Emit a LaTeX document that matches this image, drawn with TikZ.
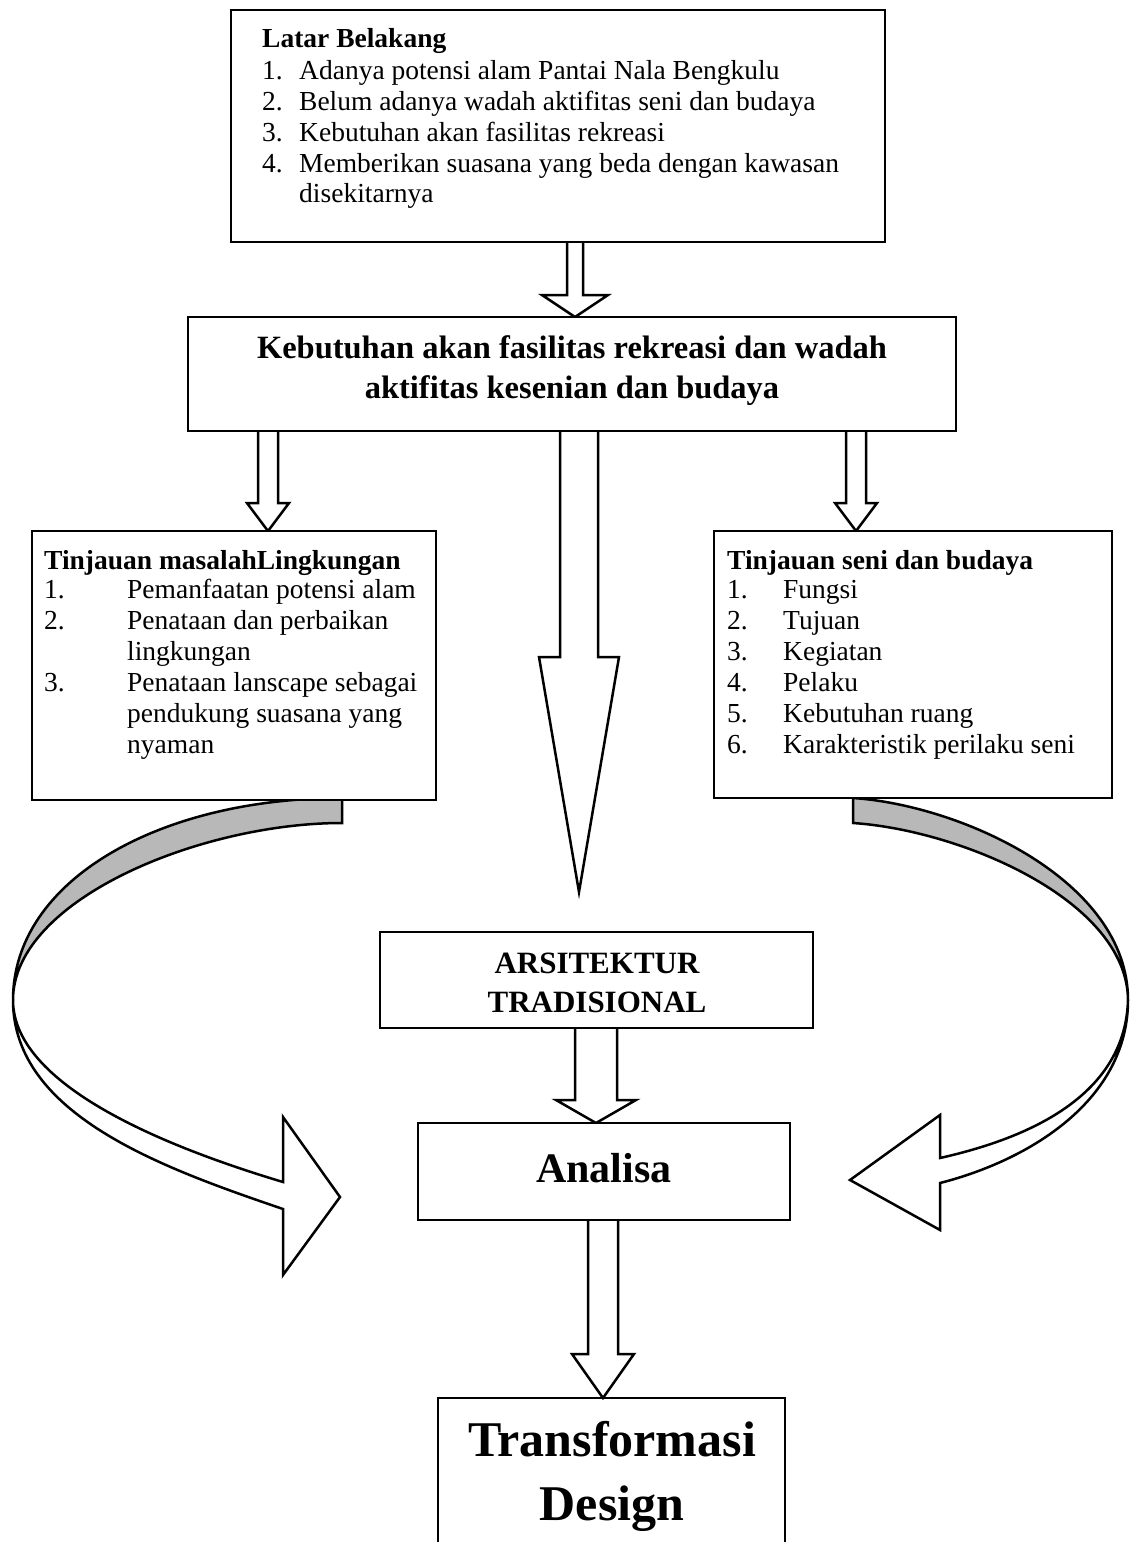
\documentclass[tikz,border=0pt]{standalone}
\usepackage{fontspec}
\setmainfont{Liberation Serif}
\usetikzlibrary{backgrounds}
\newcommand{\myfA}{\fontsize{27.5}{31}\selectfont}
\newcommand{\myfB}{\fontsize{32.5}{38}\selectfont\bfseries}
\newcommand{\myfC}{\fontsize{31}{40}\selectfont\bfseries}
\newcommand{\myfD}{\fontsize{42}{50}\selectfont\bfseries}
\newcommand{\myfE}{\fontsize{50}{62}\selectfont\bfseries}
% block arrow: x-coordinate, start point, tip point, shaft half, head half, head length
\newcommand{\blockarrow}[6]{%
  \path[arrowline] ([xshift=-#4]#1 |- #2) -- ([xshift=-#4,yshift=#6]#1 |- #3)
    -- ([xshift=-#5,yshift=#6]#1 |- #3) -- (#1 |- #3)
    -- ([xshift=#5,yshift=#6]#1 |- #3) -- ([xshift=#4,yshift=#6]#1 |- #3)
    -- ([xshift=#4]#1 |- #2);}
\begin{document}
\begin{tikzpicture}[x=1pt,y=-1pt,
  box/.style={draw, line width=2.8pt, fill=white, rectangle, inner sep=0pt, outer sep=0pt, anchor=north west},
  arrowline/.style={draw, line width=2.5pt, fill=white, line join=miter},
  band/.style={draw, line width=2.5pt, line join=miter},
  shade/.style={fill=black!28},
  txt/.style={anchor=base west, inner sep=0pt, font=\myfA},
  hdr/.style={anchor=base west, inner sep=0pt, font=\myfA\bfseries}]
\useasboundingbox (0,0) rectangle (1130,1542);

% boxes
\node[box, minimum width=654pt, minimum height=232pt] (top) at (231,10) {};
\node[box, minimum width=768pt, minimum height=114pt] (mid) at (188,317) {};
\node[box, minimum width=404pt, minimum height=269pt] (left) at (32,531) {};
\node[box, minimum width=398pt, minimum height=267pt] (right) at (714,531) {};
\node[box, minimum width=433pt, minimum height=96pt] (ars) at (380,932) {};
\node[box, minimum width=372pt, minimum height=97pt] (ana) at (418,1123) {};
\node[inner sep=0pt, outer sep=0pt, minimum width=347pt, minimum height=165pt, anchor=north west] (trans) at (438,1398) {};
\draw[line width=2.8pt] (trans.south west) -- (trans.north west) -- (trans.north east) -- (trans.south east);

% arrows and curved bands behind the boxes
\begin{scope}[on background layer]
  \coordinate (xa1) at (575,0);
  \coordinate (xa2) at (268,0);
  \coordinate (xa3) at (856,0);
  \coordinate (xa4) at (579,0);
  \coordinate (xa5) at (596,0);
  \coordinate (xa6) at (603,0);
  \coordinate (a4tip) at (579,892);
  \blockarrow{xa1}{top.south}{mid.north}{8pt}{33pt}{22pt}
  \blockarrow{xa2}{mid.south}{left.north}{10pt}{21pt}{28pt}
  \blockarrow{xa3}{mid.south}{right.north}{10pt}{21pt}{28pt}
  \blockarrow{xa4}{mid.south}{a4tip}{19pt}{40pt}{235pt}
  \blockarrow{xa5}{ars.south}{ana.north}{21pt}{40pt}{23pt}
  \blockarrow{xa6}{ana.south}{trans.north}{15pt}{31pt}{44pt}
  % left curved arrow
  \path[band, shade] (342,798) -- (342,823) .. controls (200,823) and (13,900) .. (13,1000)
     .. controls (13,880) and (160,798) .. (342,798) -- cycle;
  \path[band, fill=white] (13,1000) .. controls (13,1115) and (163,1168) .. (283,1209)
     -- (283,1275) -- (340,1197) -- (283,1117) -- (283,1182)
     .. controls (183,1152) and (13,1090) .. (13,1000) -- cycle;
  % right curved arrow
  \path[band, shade] (853,798) -- (853,823) .. controls (960,830) and (1127,900) .. (1128,1000)
     .. controls (1128,880) and (960,805) .. (853,798) -- cycle;
  \path[band, fill=white] (1128,1000) .. controls (1128,1100) and (1030,1160) .. (940,1183)
     -- (940,1230) -- (850,1180) -- (940,1115) -- (940,1158)
     .. controls (1020,1140) and (1125,1100) .. (1128,1000) -- cycle;
\end{scope}

% top box text
\node[hdr] (tb0) at (262,47) {Latar Belakang};
\node[txt] (tb1) at (262,79) {\makebox[37pt][l]{1.}Adanya potensi alam Pantai Nala Bengkulu};
\node[txt] (tb2) at (262,110) {\makebox[37pt][l]{2.}Belum adanya wadah aktifitas seni dan budaya};
\node[txt] (tb3) at (262,141) {\makebox[37pt][l]{3.}Kebutuhan akan fasilitas rekreasi};
\node[txt] (tb4) at (262,172) {\makebox[37pt][l]{4.}Memberikan suasana yang beda dengan kawasan};
\node[txt] (tb5) at (262,202) {\hspace*{37pt}disekitarnya};

% middle box text
\node[anchor=base, inner sep=0pt, font=\myfB] (mt1) at (572,358) {Kebutuhan akan fasilitas rekreasi dan wadah};
\node[anchor=base, inner sep=0pt, font=\myfB] (mt2) at (572,398) {aktifitas kesenian dan budaya};

% left box text
\node[hdr] (lb0) at (44,569) {Tinjauan masalahLingkungan};
\node[txt] (lb1) at (44,598) {\makebox[83pt][l]{1.}Pemanfaatan potensi alam};
\node[txt] (lb2) at (44,629) {\makebox[83pt][l]{2.}Penataan dan perbaikan};
\node[txt] (lb3) at (44,660) {\hspace*{83pt}lingkungan};
\node[txt] (lb4) at (44,691) {\makebox[83pt][l]{3.}Penataan lanscape sebagai};
\node[txt] (lb5) at (44,722) {\hspace*{83pt}pendukung suasana yang};
\node[txt] (lb6) at (44,753) {\hspace*{83pt}nyaman};

% right box text
\node[hdr] (rb0) at (727,569) {Tinjauan seni dan budaya};
\node[txt] (rb1) at (727,598) {\makebox[56pt][l]{1.}Fungsi};
\node[txt] (rb2) at (727,629) {\makebox[56pt][l]{2.}Tujuan};
\node[txt] (rb3) at (727,660) {\makebox[56pt][l]{3.}Kegiatan};
\node[txt] (rb4) at (727,691) {\makebox[56pt][l]{4.}Pelaku};
\node[txt] (rb5) at (727,722) {\makebox[56pt][l]{5.}Kebutuhan ruang};
\node[txt] (rb6) at (727,753) {\makebox[56pt][l]{6.}Karakteristik perilaku seni};

% lower boxes text
\node[anchor=base, inner sep=0pt, font=\myfC] (at1) at (597,973) {ARSITEKTUR};
\node[anchor=base, inner sep=0pt, font=\myfC] (at2) at (597,1012) {TRADISIONAL};
\node[anchor=base, inner sep=0pt, font=\myfD] (an1) at (604,1182) {Analisa};
\node[anchor=base, inner sep=0pt, font=\myfE] (tr1) at (612,1456) {Transformasi};
\node[anchor=base, inner sep=0pt, font=\myfE] (tr2) at (612,1520) {Design};
\end{tikzpicture}
\end{document}
